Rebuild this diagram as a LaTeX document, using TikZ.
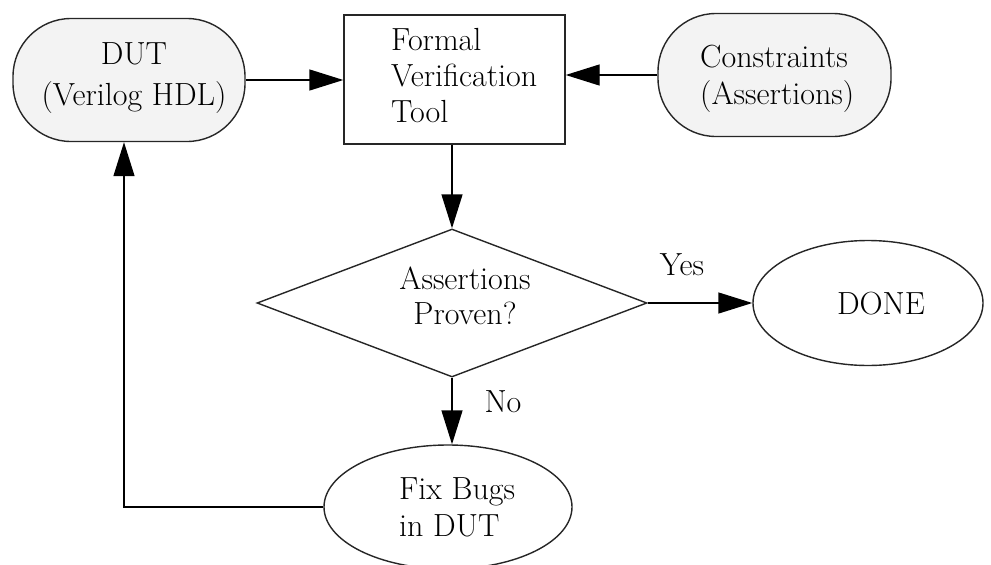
\documentclass[tikz,border=0pt]{standalone}
\usetikzlibrary{shapes.geometric,arrows.meta}
\definecolor{stadfill}{HTML}{F3F3F3}
\begin{document}
\begin{tikzpicture}[x=1pt,y=-1pt,
  every node/.style={font=\fontsize{32}{38}\selectfont, inner sep=0pt},
  shapeline/.style={draw=black!85, line width=1.4pt},
  stadium/.style={shapeline, fill=stadfill, rounded corners=58pt, minimum width=232pt, minimum height=123pt},
  plainbox/.style={shapeline, fill=white, minimum width=221pt, minimum height=129pt},
  decision/.style={shapeline, fill=white, diamond, aspect=2.6, minimum width=390pt, minimum height=148pt},
  oval/.style={shapeline, fill=white, ellipse},
  arr/.style={draw=black, line width=1.4pt, -{Triangle[length=34pt,width=21pt]}}
]
\useasboundingbox (0,0) rectangle (991,565);
% shapes
\node[stadium] (dut) at (129,80) {};
\node[plainbox] (fvt) at (454.5,79.5) {};
\node[stadium, minimum width=233pt] (con) at (774.5,75) {};
\node[decision] (dia) at (452,303) {};
\node[oval, minimum width=230pt, minimum height=125pt] (done) at (868,303) {};
\node[oval, minimum width=248pt, minimum height=124pt] (fix) at (448,507) {};
% texts
\node[align=center, font=\fontsize{32}{41}\selectfont] (dutt) at (134,78) {DUT\\(Verilog HDL)};
\node[align=left, anchor=west, font=\fontsize{32}{36}\selectfont] (fvtt) at (391,76) {Formal\\Verification\\Tool};
\node[align=left, anchor=west, font=\fontsize{32}{37}\selectfont] (cont) at (700,79) {Constraints\\(Assertions)};
\node[align=center, font=\fontsize{32}{35}\selectfont] (diat) at (465,296) {Assertions\\Proven?};
\node (donet) at (881,303.5) {DONE};
\node[align=left, anchor=west, font=\fontsize{32}{37}\selectfont] (fixt) at (399,507.5) {Fix Bugs\\in DUT};
\node[anchor=base] (yes) at (682,275) {Yes};
\node[anchor=base] (no) at (503,412) {No};
% connectors
\draw[arr] (dut.east) -- (dut.east -| fvt.west);
\draw[arr] (con.west) -- (con.west -| fvt.east);
\draw[arr] (dia.north |- fvt.south) -- (dia.north);
\draw[arr] (dia.east) -- (done.west);
\draw[arr] (dia.south) -- (dia.south |- fix.north);
\draw[arr] (fix.west) -| ([xshift=-5pt]dut.south);
\end{tikzpicture}
\end{document}
